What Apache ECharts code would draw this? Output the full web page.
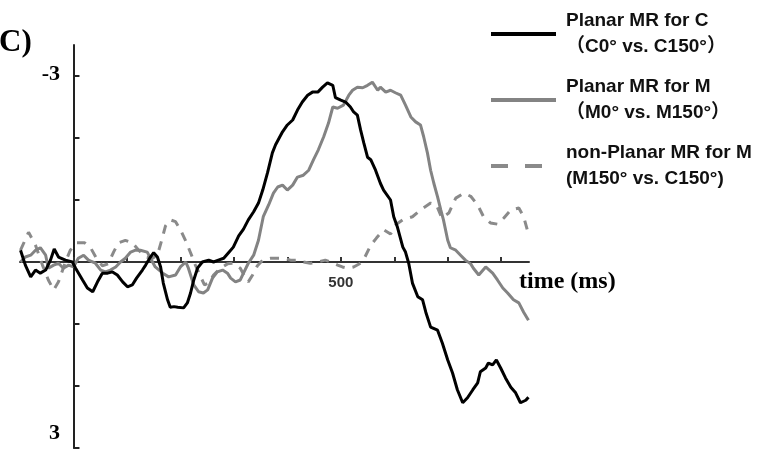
<!DOCTYPE html>
<html>
<head>
<meta charset="utf-8">
<script src="https://cdn.jsdelivr.net/npm/echarts@6/dist/echarts.min.js"></script>
<style>
  html, body { margin: 0; padding: 0; background: #fff; }
  #chart { width: 763px; height: 449px; }
</style>
</head>
<body>
<div id="chart"></div>
<script>
// Series names and second legend lines
const seriesNames = ['Planar MR for C', 'Planar MR for M', 'non-Planar MR for M'];
const seriesSubs = ['（C0° vs. C150°）', '（M0° vs. M150°）', '(M150° vs. C150°)'];

// Tick positions and labels
const xTicks = [0, 100, 200, 300, 400, 500, 600, 700, 800];
const xLabels = [500];
const yTicks = [-3, -2, -1, 0, 1, 2, 3];
const yLabels = [-3, 3];

// [time (ms), amplitude]
const planarC = [
  [-99,-0.19],[-90,0.05],[-80,0.24],[-71,0.13],[-62,0.18],[-52,0.13],[-43,-0.03],[-36,-0.21],[-28,-0.08],
  [-15,-0.03],[-2,0],[4,0.10],[17,0.29],[26,0.42],[36,0.48],[45,0.32],[54,0.18],[64,0.18],[73,0.16],
  [82,0.21],[92,0.32],[101,0.40],[110,0.37],[118,0.26],[129,0.13],[135,0.05],[144,-0.08],[150,-0.15],
  [157,-0.08],[163,0.08],[168,0.34],[176,0.61],[181,0.73],[188,0.72],[195,0.73],[206,0.74],[213,0.66],
  [219,0.50],[225,0.29],[232,0.10],[241,0],[253,-0.03],[262,0],[271,-0.03],[281,-0.06],[290,-0.15],
  [299,-0.24],[309,-0.42],[318,-0.53],[327,-0.68],[337,-0.81],[346,-0.95],[354,-1.16],[363,-1.44],
  [372,-1.76],[378,-1.89],[391,-2.10],[400,-2.21],[410,-2.29],[419,-2.45],[428,-2.58],[438,-2.69],
  [447,-2.74],[457,-2.74],[466,-2.82],[475,-2.89],[485,-2.85],[490,-2.65],[500,-2.61],[509,-2.58],
  [518,-2.50],[524,-2.42],[531,-2.37],[537,-2.13],[543,-1.92],[550,-1.69],[556,-1.65],[565,-1.48],
  [574,-1.27],[580,-1.16],[593,-1.00],[599,-0.73],[606,-0.56],[616,-0.24],[621,-0.16],[627,0.02],
  [634,0.34],[644,0.56],[653,0.61],[659,0.81],[668,1.05],[681,1.10],[690,1.31],[700,1.58],[709,1.79],
  [718,2.06],[728,2.27],[737,2.19],[747,2.06],[756,1.95],[761,1.77],[771,1.71],[776,1.63],[784,1.66],
  [791,1.58],[799,1.71],[808,1.87],[818,2.02],[827,2.11],[836,2.27],[846,2.23],[851,2.18]
];

const planarM = [
  [-99,0],[-90,-0.08],[-80,-0.11],[-71,-0.19],[-62,-0.23],[-52,-0.11],[-47,0.10],[-37,0.05],[-28,0.02],
  [-19,0.10],[-9,0.05],[0,0.08],[9,-0.06],[19,-0.11],[28,-0.03],[41,0.02],[51,0.13],[60,0.16],[69,0.13],
  [79,0.08],[88,0],[97,-0.06],[107,-0.16],[116,-0.19],[125,-0.19],[138,-0.16],[144,-0.06],[153,0.08],
  [167,0.18],[178,0.24],[191,0.21],[200,0.08],[210,0],[215,0.10],[225,0.37],[234,0.48],[243,0.50],
  [251,0.45],[260,0.26],[269,0.16],[279,0.13],[288,0.18],[294,0.26],[303,0.32],[312,0.29],[318,0.18],
  [327,0.02],[337,-0.11],[346,-0.35],[355,-0.73],[365,-0.92],[374,-1.11],[382,-1.21],[391,-1.24],
  [400,-1.16],[410,-1.24],[419,-1.37],[430,-1.40],[440,-1.48],[449,-1.65],[458,-1.81],[468,-2.02],
  [477,-2.24],[485,-2.50],[494,-2.48],[505,-2.53],[515,-2.69],[522,-2.77],[531,-2.82],[541,-2.81],
  [550,-2.85],[559,-2.90],[569,-2.77],[574,-2.82],[584,-2.74],[593,-2.77],[602,-2.73],[612,-2.69],
  [621,-2.53],[631,-2.34],[640,-2.26],[649,-2.21],[655,-2.02],[662,-1.76],[668,-1.48],[674,-1.27],
  [681,-1.05],[687,-0.84],[692,-0.68],[700,-0.35],[705,-0.23],[715,-0.19],[724,-0.11],[733,-0.03],
  [743,0.03],[748,0.10],[758,0.21],[771,0.08],[784,0.18],[793,0.29],[803,0.42],[812,0.50],[823,0.61],
  [833,0.66],[842,0.81],[851,0.94]
];

const nonPlanarM = [
  [-99,-0.19],[-84,-0.48],[-71,-0.27],[-58,0.05],[-47,0.29],[-37,0.45],[-28,0.32],[-15,0],[-6,-0.19],
  [6,-0.31],[21,-0.31],[32,-0.23],[43,-0.06],[54,0.06],[65,0.03],[75,-0.16],[84,-0.31],[97,-0.35],
  [110,-0.31],[122,-0.19],[135,-0.08],[148,-0.06],[157,-0.11],[165,-0.35],[172,-0.58],[181,-0.68],
  [191,-0.65],[200,-0.52],[210,-0.34],[219,-0.15],[228,0.05],[238,0.24],[245,0.37],[253,0.34],[262,0.21],
  [275,0.10],[288,0.03],[299,0.02],[312,0.10],[322,0.26],[327,0.32],[335,0.21],[344,0.06],[354,-0.03],
  [369,-0.06],[382,-0.06],[393,-0.06],[406,-0.03],[419,-0.03],[430,0],[443,0.02],[457,0],[471,-0.03],
  [481,0],[494,0.05],[503,0.08],[513,0.10],[524,0.08],[537,0.02],[544,-0.06],[556,-0.27],[567,-0.39],
  [580,-0.52],[593,-0.45],[604,-0.61],[616,-0.68],[634,-0.73],[649,-0.84],[668,-0.95],[679,-0.92],
  [689,-0.71],[702,-0.79],[715,-1.03],[730,-1.11],[743,-1.06],[756,-0.92],[767,-0.73],[780,-0.63],
  [793,-0.61],[805,-0.71],[818,-0.84],[833,-0.87],[842,-0.73],[851,-0.45]
];

const chart = echarts.init(document.getElementById('chart'), null, { renderer: 'canvas' });

const legendFont = "'Liberation Sans', Arial, 'Noto Sans CJK SC', sans-serif";
const serifFont = "'Liberation Serif', 'Times New Roman', serif";

// Legend samples: a solid bar and a two-dash bar, both spanning the full item width
const solidIcon = 'path://M0,0H65V4H0Z';
const dashIcon = 'path://M0,0H17V4H0Z M34,0H51V4H34Z M65,0L65,4';

chart.setOption({
  animation: false,
  backgroundColor: '#fff',
  grid: { left: 20, right: 234, top: 45, bottom: 1, outerBoundsMode: 'none', containLabel: false },
  title: {
    text: 'C)',
    left: -1, top: 27,
    padding: 0,
    textStyle: { fontFamily: serifFont, fontWeight: 'bold', fontSize: 31, color: '#000' }
  },
  legend: {
    orient: 'vertical',
    left: 491, top: 8,
    padding: 0,
    itemWidth: 65,
    itemHeight: 4.5,
    itemGap: 14,
    data: [
      { name: seriesNames[0], icon: solidIcon },
      { name: seriesNames[1], icon: solidIcon },
      { name: seriesNames[2], icon: dashIcon }
    ],
    formatter: function (name) {
      return name + '\n' + seriesSubs[seriesNames.indexOf(name)];
    },
    textStyle: {
      fontFamily: legendFont, fontWeight: 'bold', fontSize: 19,
      lineHeight: 26, color: '#111', padding: [0, 0, 0, 5]
    }
  },
  xAxis: {
    type: 'value',
    min: -100, max: 852,
    name: 'time (ms)',
    nameLocation: 'end',
    nameGap: -10,
    nameTextStyle: {
      fontFamily: serifFont, fontWeight: 'bold', fontSize: 24, color: '#000',
      align: 'left', verticalAlign: 'top', padding: [8, 0, 0, 0]
    },
    splitLine: { show: false },
    axisLine: { onZero: true, lineStyle: { color: '#333', width: 2 } },
    axisTick: { inside: true, length: 5, customValues: xTicks, lineStyle: { color: '#333', width: 2 } },
    // labels sit at the grid edge; pull them up under the zero line
    axisLabel: {
      customValues: xLabels, margin: -173,
      fontFamily: legendFont, fontWeight: 'bold', fontSize: 15, color: '#333'
    }
  },
  yAxis: {
    type: 'value',
    inverse: true,
    min: -3.5, max: 3,
    splitLine: { show: false },
    axisLine: { onZero: true, lineStyle: { color: '#222', width: 2 } },
    axisTick: { inside: true, length: 6, customValues: yTicks, lineStyle: { color: '#222', width: 2 } },
    // labels sit at the grid edge; push them right, next to the zero-time axis
    axisLabel: {
      customValues: yLabels,
      margin: -40,
      formatter: function (v) { return v > 0 ? '{b|' + v + '}' : '{a|' + v + '}'; },
      rich: {
        a: { fontFamily: serifFont, fontWeight: 'bold', fontSize: 22, color: '#000', padding: [0, 0, 4, 0] },
        b: { fontFamily: serifFont, fontWeight: 'bold', fontSize: 22, color: '#000', padding: [0, 0, 30, 0] }
      }
    }
  },
  series: [
    {
      name: seriesNames[0], type: 'line', data: planarC, symbol: 'none', z: 3,
      lineStyle: { color: '#000', width: 3 }, itemStyle: { color: '#000' }
    },
    {
      name: seriesNames[1], type: 'line', data: planarM, symbol: 'none', z: 2,
      lineStyle: { color: '#838383', width: 3 }, itemStyle: { color: '#838383' }
    },
    {
      name: seriesNames[2], type: 'line', data: nonPlanarM, symbol: 'none', z: 1,
      lineStyle: { color: '#8a8a8a', width: 3, type: [9, 8] }, itemStyle: { color: '#8a8a8a' }
    }
  ]
});
</script>
</body>
</html>
